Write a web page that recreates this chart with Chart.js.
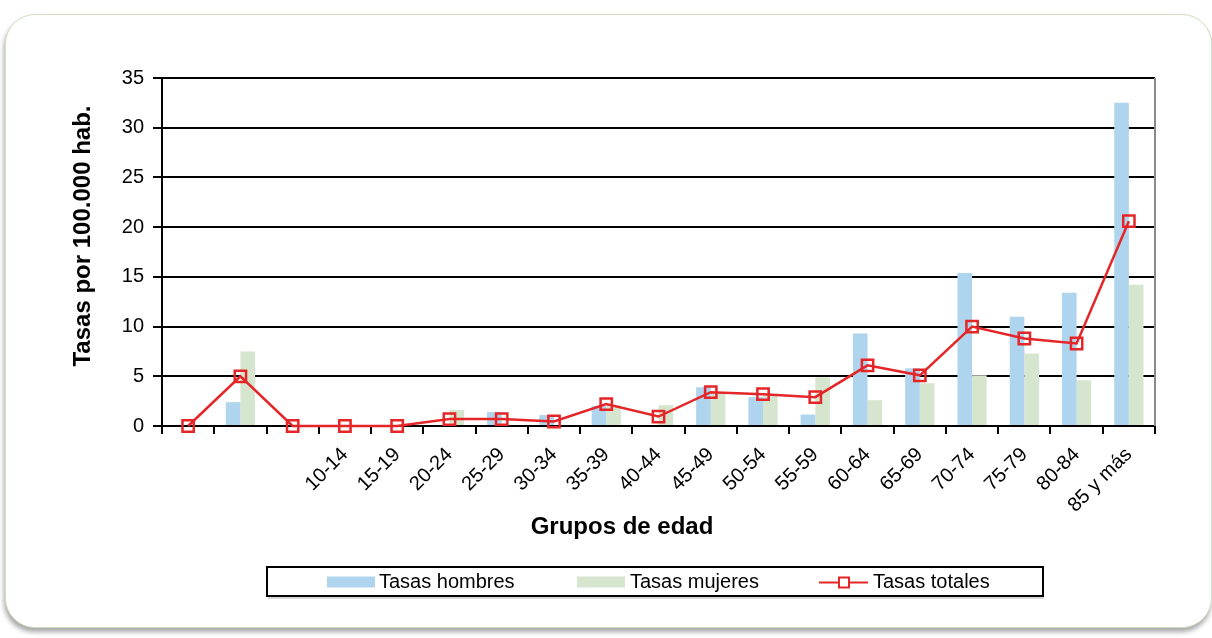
<!DOCTYPE html>
<html lang="es">
<head>
<meta charset="utf-8">
<title>Tasas por grupos de edad</title>
<script src="https://cdn.jsdelivr.net/npm/chart.js@4.4.1/dist/chart.umd.min.js"></script>
<style>
  html, body { margin: 0; padding: 0; background: #ffffff; }
  body { width: 1212px; height: 638px; position: relative; overflow: hidden; font-family: "Liberation Sans", Arial, sans-serif; }
  #panel {
    position: absolute; left: 5px; top: 14px; width: 1205px; height: 612px;
    border: 1px solid #cfe0c0; border-radius: 30px; background: #ffffff;
    box-shadow: -1px 4px 5px rgba(0,0,0,0.35);
  }
  #wrap { position: absolute; left: 0; top: 0; width: 1212px; height: 638px; }
</style>
</head>
<body>
<div id="panel"></div>
<div id="wrap"><canvas id="chart" width="1212" height="638"></canvas></div>
<script>
// Age groups (the first three groups carry no printed label)
const grupos = ['', '', '', '10-14', '15-19', '20-24', '25-29', '30-34', '35-39', '40-44',
                '45-49', '50-54', '55-59', '60-64', '65-69', '70-74', '75-79', '80-84', '85 y más'];

// Rates per 100.000 inhabitants
const tasasHombres = [0, 2.4, 0, 0, 0, 0, 1.4, 1.1, 2.0, 0, 3.9, 2.9, 1.15, 9.3, 5.8, 15.4, 11.0, 13.4, 32.5];
const tasasMujeres = [0, 7.5, 0, 0, 0, 1.6, 0, 0, 2.1, 2.1, 3.3, 3.1, 4.9, 2.6, 4.3, 5.1, 7.3, 4.6, 14.2];
const tasasTotales = [0, 5.0, 0, 0, 0, 0.7, 0.7, 0.45, 2.2, 0.95, 3.4, 3.2, 2.9, 6.1, 5.1, 10.0, 8.8, 8.3, 20.6];

const yTicks = [0, 5, 10, 15, 20, 25, 30, 35];

const azul = 'rgb(175,212,238)';
const verde = 'rgb(214,230,206)';
const rojo = 'rgb(228,38,40)';
const fuente = '"Liberation Sans", Arial, sans-serif';

// Axis titles, right border and boxed legend
const extras = {
  id: 'extras',
  afterDraw(chart) {
    const ctx = chart.ctx;
    const ca = chart.chartArea;
    ctx.save();

    // right border of the plot
    ctx.strokeStyle = '#8a8a8a';
    ctx.lineWidth = 2;
    ctx.beginPath();
    ctx.moveTo(ca.right, ca.top);
    ctx.lineTo(ca.right, ca.bottom);
    ctx.stroke();

    // axis titles
    ctx.fillStyle = '#000';
    ctx.font = 'bold 24px ' + fuente;
    ctx.textAlign = 'center';
    ctx.textBaseline = 'middle';
    ctx.fillText('Grupos de edad', 622, 527);
    ctx.save();
    ctx.translate(83, 236);
    ctx.rotate(-Math.PI / 2);
    ctx.fillText('Tasas por 100.000 hab.', 0, 0);
    ctx.restore();

    // legend box
    const bx = 267, by = 567, bw = 776, bh = 29;
    ctx.fillStyle = 'rgba(0,0,0,0.15)';
    ctx.fillRect(bx + 1, by + bh + 1, bw, 2);
    ctx.fillStyle = '#fff';
    ctx.fillRect(bx, by, bw, bh);
    ctx.strokeStyle = '#000';
    ctx.lineWidth = 2;
    ctx.strokeRect(bx, by, bw, bh);

    const cy = by + bh / 2 + 1;
    const ds = chart.data.datasets;
    ctx.font = '20px ' + fuente;
    ctx.textAlign = 'left';
    ctx.textBaseline = 'middle';

    ctx.fillStyle = ds[0].backgroundColor;
    ctx.fillRect(327, cy - 6, 48, 11);
    ctx.fillStyle = '#000';
    ctx.fillText(ds[0].label, 379, cy);

    ctx.fillStyle = ds[1].backgroundColor;
    ctx.fillRect(577, cy - 6, 48, 11);
    ctx.fillStyle = '#000';
    ctx.fillText(ds[1].label, 630, cy);

    ctx.strokeStyle = ds[2].borderColor;
    ctx.lineWidth = 2;
    ctx.beginPath();
    ctx.moveTo(819, cy);
    ctx.lineTo(868, cy);
    ctx.stroke();
    ctx.fillStyle = '#fff';
    ctx.fillRect(839, cy - 5, 10, 10);
    ctx.strokeRect(839, cy - 5, 10, 10);
    ctx.fillStyle = '#000';
    ctx.fillText(ds[2].label, 873, cy);

    ctx.restore();
  }
};

new Chart(document.getElementById('chart'), {
  data: {
    labels: grupos,
    datasets: [
      {
        type: 'bar', label: 'Tasas hombres', data: tasasHombres,
        backgroundColor: azul, barPercentage: 1, categoryPercentage: 0.56, order: 2
      },
      {
        type: 'bar', label: 'Tasas mujeres', data: tasasMujeres,
        backgroundColor: verde, barPercentage: 1, categoryPercentage: 0.56, order: 2
      },
      {
        type: 'line', label: 'Tasas totales', data: tasasTotales,
        borderColor: rojo, borderWidth: 2.5, tension: 0, clip: false,
        pointStyle: 'rect', pointRadius: 8, pointBorderWidth: 2.5,
        pointBorderColor: rojo, pointBackgroundColor: 'rgba(255,255,255,0)',
        order: 1
      }
    ]
  },
  options: {
    responsive: false,
    animation: false,
    layout: { padding: { left: 0, top: 78, right: 57, bottom: 0 } },
    plugins: { legend: { display: false }, tooltip: { enabled: false } },
    scales: {
      x: {
        afterFit(scale) { scale.height = 212; },
        grid: { drawOnChartArea: false, drawTicks: true, tickLength: 8, color: '#000', lineWidth: 2, offset: true },
        border: { display: true, color: '#000', width: 2 },
        ticks: {
          color: '#000', font: { family: fuente, size: 20 },
          minRotation: 45, maxRotation: 45, padding: 9, autoSkip: false
        }
      },
      y: {
        min: 0, max: 35,
        afterFit(scale) { scale.width = 162; },
        afterBuildTicks(scale) { scale.ticks = yTicks.map(v => ({ value: v })); },
        grid: { color: '#000', lineWidth: 2, tickLength: 9, drawTicks: true },
        border: { display: true, color: '#000', width: 2 },
        ticks: { color: '#000', font: { family: fuente, size: 20 }, padding: 9 }
      }
    }
  },
  plugins: [extras]
});
</script>
</body>
</html>
